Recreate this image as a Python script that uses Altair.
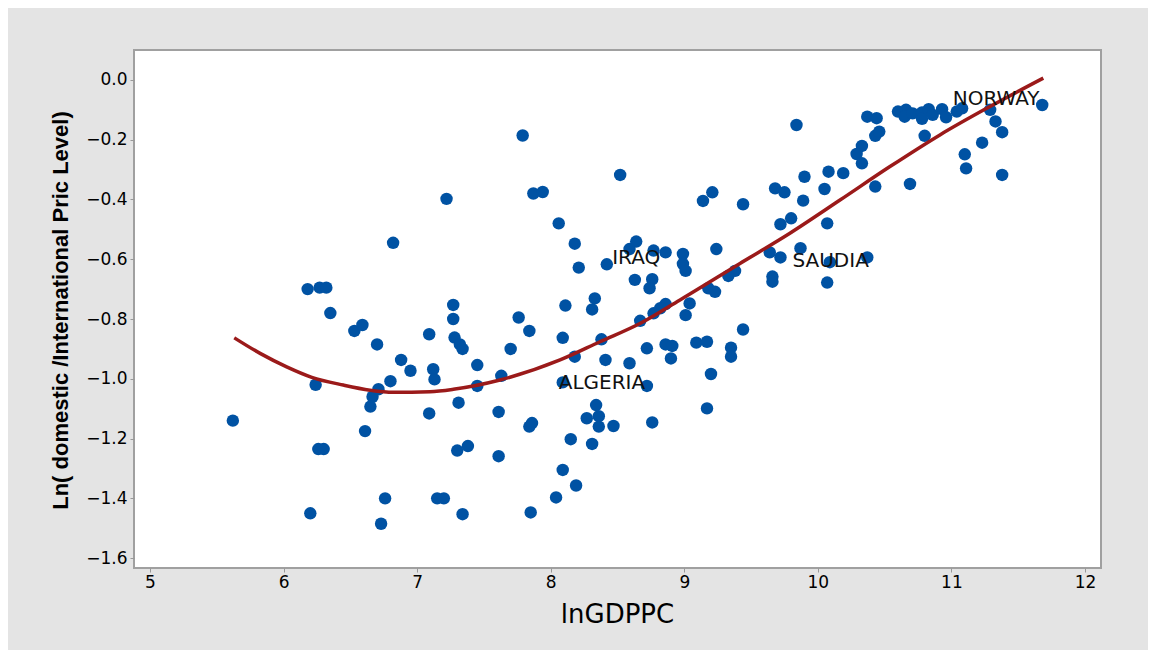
import altair as alt
import pandas as pd

# Scatter points: lnGDPPC (x) and Ln(domestic/International price level) (y)
gdp = [
    5.62, 6.18, 6.20, 6.24, 6.26, 6.30, 6.27, 6.32, 6.35, 6.53, 6.59, 6.61, 6.70, 6.82, 6.73, 6.76,
    6.666, 6.65, 6.71, 6.80, 6.88, 6.95, 7.09, 7.09, 7.12, 7.13, 7.15, 7.20, 7.22, 7.27, 7.27, 7.28,
    7.32, 7.34, 7.31, 7.30, 7.38, 7.34, 7.45, 7.45, 7.61, 7.63, 7.61, 7.70, 7.76, 7.79, 7.84, 7.84,
    7.86, 7.85, 7.87, 7.94,
    8.06, 8.18, 8.21, 8.42, 8.64, 8.59, 8.77, 8.86, 8.63, 8.76, 8.74, 8.99, 8.99, 9.01, 9.21, 9.14,
    9.44, 9.24, 9.38, 9.33, 9.18, 9.23, 9.04, 8.86, 8.82, 8.77, 9.01, 8.67, 8.33, 8.31, 8.11, 8.52,
    8.09, 8.38, 9.44, 8.72, 8.86, 8.91, 8.90, 9.09, 9.17, 9.35, 9.35, 9.20, 9.17, 8.76, 8.72, 8.59,
    8.41, 8.18, 8.09, 8.34, 8.36, 8.27, 8.36, 8.47, 8.31, 8.15, 8.09, 8.19, 8.04,
    9.84, 10.37, 10.44, 10.43, 10.46, 10.33, 10.29, 10.33, 10.19, 10.08, 10.05, 9.90, 9.89, 9.68,
    9.75, 9.80, 9.72, 10.07, 10.43, 10.69, 9.87, 9.64, 9.72, 10.09, 10.37, 9.66, 9.66, 10.07,
    10.60, 10.66, 10.65, 10.71, 10.78, 10.78, 10.83, 10.86, 10.93, 10.96, 11.04, 11.08,
    10.80, 11.29, 11.33, 11.38, 11.23, 11.10, 11.11, 11.38, 11.68,
]
price = [
    -1.14, -0.70, -1.45, -1.02, -1.235, -1.235, -0.695, -0.695, -0.78, -0.84, -0.82, -1.175, -0.885, -0.545, -1.485, -1.40,
    -1.06, -1.093, -1.035, -1.008, -0.937, -0.973, -0.851, -1.116, -0.968, -1.002, -1.40, -1.40, -0.398, -0.753, -0.80, -0.862,
    -0.885, -0.90, -1.08, -1.24, -1.225, -1.453, -0.954, -1.024, -1.111, -0.99, -1.259, -0.90, -0.795, -0.186, -0.84, -1.16,
    -1.148, -1.447, -0.38, -0.375,
    -0.48, -0.548, -0.628, -0.617, -0.541, -0.566, -0.571, -0.577, -0.669, -0.667, -0.697, -0.582, -0.616, -0.639, -0.376, -0.405,
    -0.416, -0.566, -0.639, -0.656, -0.697, -0.709, -0.748, -0.75, -0.764, -0.781, -0.787, -0.806, -0.731, -0.768, -0.755, -0.318,
    -0.863, -0.868, -0.835, -0.898, -0.885, -0.89, -0.932, -0.879, -0.876, -0.896, -0.926, -0.984, -1.099, -1.146, -1.024, -0.948,
    -0.937, -0.926, -1.012, -1.088, -1.125, -1.132, -1.16, -1.158, -1.218, -1.202, -1.305, -1.357, -1.397,
    -0.151, -0.123, -0.128, -0.187, -0.173, -0.221, -0.248, -0.279, -0.312, -0.307, -0.365, -0.324, -0.404, -0.363,
    -0.376, -0.463, -0.483, -0.48, -0.357, -0.348, -0.563, -0.577, -0.594, -0.61, -0.594, -0.658, -0.675, -0.678,
    -0.106, -0.10, -0.123, -0.112, -0.109, -0.13, -0.098, -0.117, -0.098, -0.125, -0.106, -0.095,
    -0.187, -0.10, -0.139, -0.175, -0.21, -0.249, -0.296, -0.318, -0.084,
]

# Smoothed fit line
fit_x = [5.631, 5.824, 6.023, 6.211, 6.447, 6.647, 6.822, 7.096, 7.271, 7.620, 8.070, 8.369,
         8.668, 8.968, 9.417, 9.791, 10.166, 10.540, 10.914, 11.289, 11.688]
fit_y = [-0.863, -0.915, -0.960, -0.995, -1.021, -1.038, -1.045, -1.043, -1.035, -1.004, -0.937, -0.876,
         -0.815, -0.736, -0.614, -0.513, -0.402, -0.290, -0.184, -0.089, 0.006]

# Country labels
label_text = ["NORWAY", "IRAQ", "SAUDIA", "ALGERIA"]
label_x = [11.01, 8.46, 9.81, 8.06]
label_y = [-0.064, -0.596, -0.606, -1.014]

pts = pd.DataFrame({"x": gdp, "y": price})
fit = pd.DataFrame({"x": fit_x, "y": fit_y})
labs = pd.DataFrame({"x": label_x, "y": label_y, "t": label_text})

FONT = "DejaVu Sans, sans-serif"
TFONT = "Liberation Sans, Arial, sans-serif"

xs = alt.Scale(domain=[4.88, 12.12], nice=False, zero=False)
ys = alt.Scale(domain=[-1.633, 0.1], nice=False, zero=False)

xax = alt.Axis(values=[5, 6, 7, 8, 9, 10, 11, 12], title="lnGDPPC", format="d",
               grid=False, domain=False, tickColor="#999999", tickSize=4,
               labelFont=FONT, labelFontSize=17, labelColor="#000000", labelPadding=2,
               titleFont=FONT, titleFontSize=26, titleFontWeight="normal", titleColor="#000000",
               titleX=483, titleY=46, titleBaseline="middle", titleAlign="center")
yax = alt.Axis(values=[0.0, -0.2, -0.4, -0.6, -0.8, -1.0, -1.2, -1.4, -1.6],
               title="Ln( domestic /International Pric Level)", format=".1f",
               grid=False, domain=False, tickColor="#999999", tickSize=4,
               labelFont=FONT, labelFontSize=17, labelColor="#000000", labelPadding=3,
               titleFont=TFONT, titleFontSize=22, titleFontWeight="bold", titleColor="#000000",
               titleX=-74, titleY=260, titleAngle=-90, titleBaseline="middle", titleAlign="center")

points = alt.Chart(pts).mark_circle(size=155, color="#0052a3", opacity=1).encode(
    x=alt.X("x:Q", scale=xs, axis=xax),
    y=alt.Y("y:Q", scale=ys, axis=yax),
)
line = alt.Chart(fit).mark_line(color="#9b1a1a", strokeWidth=3.5, interpolate="monotone").encode(
    x=alt.X("x:Q", scale=xs), y=alt.Y("y:Q", scale=ys)
)
text = alt.Chart(labs).mark_text(align="left", baseline="middle", fontSize=20, font=FONT,
                                 color="#111111").encode(
    x=alt.X("x:Q", scale=xs), y=alt.Y("y:Q", scale=ys), text="t:N"
)

chart = alt.layer(points, line, text).properties(
    width=967, height=518,
    autosize=alt.AutoSizeParams(type="none"),
    padding={"left": 126, "top": 42, "right": 47, "bottom": 82},
    background="#e4e4e4",
).configure_view(stroke="#a0a0a0", strokeWidth=2, fill="#ffffff")

chart.save("out.html", embed_options={"renderer": "svg", "actions": False})
